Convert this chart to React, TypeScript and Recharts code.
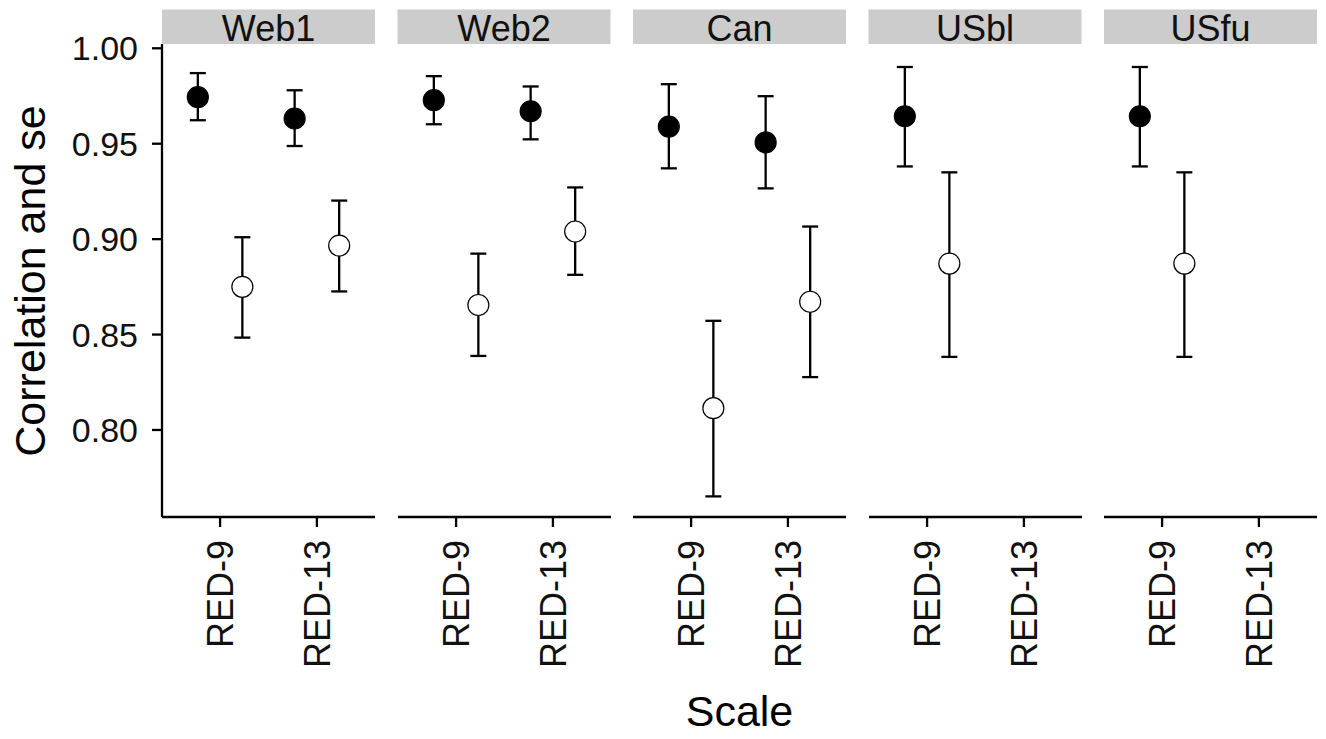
import React from 'react';
import { ScatterChart, Scatter, XAxis, YAxis, ErrorBar } from 'recharts';

const panels = ['Web1', 'Web2', 'Can', 'USbl', 'USfu'];
const scales = ['RED-9', 'RED-13'];

// black points, per panel: [RED-9, RED-13]
const filledMean = [[0.9744, 0.9632], [0.9728, 0.967], [0.959, 0.9507], [0.9644, null], [0.9644, null]];
const filledLow = [[0.9623, 0.9488], [0.9602, 0.9523], [0.9371, 0.9266], [0.9381, null], [0.9381, null]];
const filledHigh = [[0.987, 0.978], [0.9854, 0.980], [0.9812, 0.9749], [0.9902, null], [0.9902, null]];

// white points
const openMean = [[0.875, 0.8966], [0.8655, 0.904], [0.8114, 0.8672], [0.8872, null], [0.8872, null]];
const openLow = [[0.8484, 0.8726], [0.8388, 0.8813], [0.7652, 0.8277], [0.8383, null], [0.8383, null]];
const openHigh = [[0.901, 0.9202], [0.8924, 0.9271], [0.8572, 0.9066], [0.935, null], [0.935, null]];

const yTicks = [0.8, 0.85, 0.9, 0.95, 1.0];

const FONT = '"Liberation Sans", Arial, sans-serif';
const PANEL_W = 213;
const PANEL_STEP = 235.5;
const FIRST_LEFT = 162;
const Y_AXIS_W = 162;
const DODGE = 0.23;
const LINE = 2.3;

const buildSeries = (p: number, mean: (number | null)[][], low: (number | null)[][], high: (number | null)[][], shift: number) =>
  scales
    .map((s, i) => {
      const m = mean[p][i];
      if (m == null) return null;
      return { x: i + 1 + shift, y: m, err: [m - (low[p][i] as number), (high[p][i] as number) - m] };
    })
    .filter(Boolean) as { x: number; y: number; err: number[] }[];

const Dot = (fill: string) => (props: any) => (
  <circle cx={props.cx} cy={props.cy} r={10.5} fill={fill} stroke="#000" strokeWidth={1.2} />
);

const XTick = (props: any) => {
  const { x, y, payload } = props;
  return (
    <g transform={`translate(${x},${y})`}>
      <text transform="rotate(-90)" textAnchor="end" dy="0.36em" fontSize={36} fontFamily={FONT} fill="#111">
        {scales[payload.value - 1]}
      </text>
    </g>
  );
};

const Panel = ({ p }: { p: number }) => {
  const withY = p === 0;
  const left = FIRST_LEFT + p * PANEL_STEP - (withY ? Y_AXIS_W : 0);
  const width = PANEL_W + (withY ? Y_AXIS_W : 0);
  const filled = buildSeries(p, filledMean, filledLow, filledHigh, -DODGE);
  const open = buildSeries(p, openMean, openLow, openHigh, DODGE);
  return (
    <div style={{ position: 'absolute', left, top: 0 }}>
      <ScatterChart width={width} height={739} margin={{ top: 44, right: 0, bottom: 72, left: 0 }}>
        <XAxis
          type="number"
          dataKey="x"
          domain={[0.4, 2.6]}
          ticks={[1, 2]}
          allowDataOverflow
          height={150}
          tick={<XTick />}
          tickSize={10}
          tickMargin={13}
          axisLine={{ stroke: '#000', strokeWidth: LINE }}
          tickLine={{ stroke: '#000', strokeWidth: LINE }}
        />
        <YAxis
          type="number"
          dataKey="y"
          domain={[0.7544, 1.00225]}
          ticks={yTicks}
          allowDataOverflow
          hide={!withY}
          width={Y_AXIS_W}
          tickFormatter={(v: number) => v.toFixed(2)}
          tick={{ fontSize: 34, fontFamily: FONT, fill: '#111' }}
          tickSize={10}
          tickMargin={14}
          axisLine={{ stroke: '#000', strokeWidth: LINE }}
          tickLine={{ stroke: '#000', strokeWidth: LINE }}
        />
        <Scatter data={filled} shape={Dot('#000')} isAnimationActive={false}>
          <ErrorBar dataKey="err" direction="y" width={8} stroke="#000" strokeWidth={LINE} />
        </Scatter>
        <Scatter data={open} shape={Dot('#fff')} isAnimationActive={false}>
          <ErrorBar dataKey="err" direction="y" width={8} stroke="#000" strokeWidth={LINE} />
        </Scatter>
      </ScatterChart>
    </div>
  );
};

export default function App() {
  return (
    <div style={{ position: 'absolute', left: 0, top: 0, width: 1326, height: 739, background: '#fff' }}>
      {panels.map((_, p) => (
        <Panel key={p} p={p} />
      ))}
      <svg width={1326} height={739} style={{ position: 'absolute', left: 0, top: 0, pointerEvents: 'none' }}>
        {panels.map((name, p) => {
          const x = FIRST_LEFT + p * PANEL_STEP;
          return (
            <g key={name}>
              <rect x={x} y={9.5} width={PANEL_W} height={34.5} fill="#cccccc" />
              <text x={x + PANEL_W / 2} y={41} textAnchor="middle" fontSize={36} fontFamily={FONT} fill="#111">
                {name}
              </text>
            </g>
          );
        })}
        <text
          transform="translate(45,281) rotate(-90)"
          textAnchor="middle"
          fontSize={43}
          fontFamily={FONT}
          fill="#000"
        >
          Correlation and se
        </text>
        <text x={739.5} y={726} textAnchor="middle" fontSize={43} fontFamily={FONT} fill="#000">
          Scale
        </text>
      </svg>
    </div>
  );
}
